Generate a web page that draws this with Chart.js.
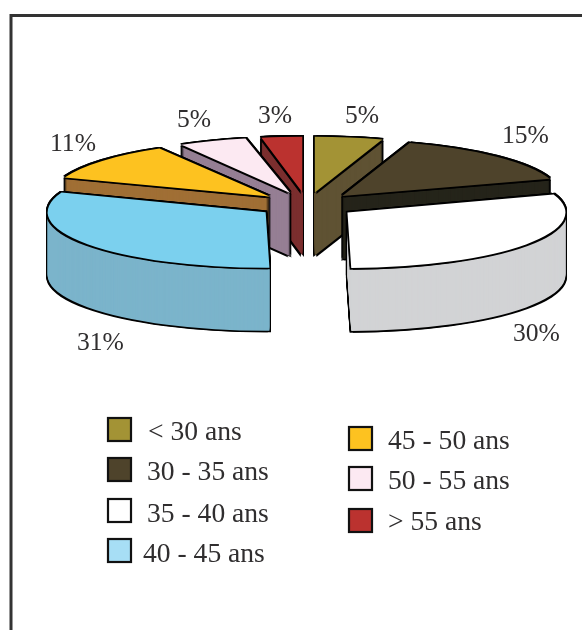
<!DOCTYPE html>
<html lang="fr">
<head>
<meta charset="utf-8">
<title>Répartition par âge</title>
<script src="https://cdn.jsdelivr.net/npm/chart.js@4/dist/chart.umd.min.js"></script>
<style>
    html, body { margin: 0; padding: 0; background: #fff; }
    canvas { display: block; }
</style>
</head>
<body>
<canvas id="ageChart" width="582" height="630"></canvas>
<script>
// age groups and their share in percent
const categories = ['< 30 ans', '30 - 35 ans', '35 - 40 ans', '40 - 45 ans', '45 - 50 ans', '50 - 55 ans', '> 55 ans'];
const shares = [5, 15, 30, 31, 11, 5, 3];

// colours of the top faces, the side walls and the legend boxes
const topColors = ['#a39335', '#4e432b', '#ffffff', '#7bd0ee', '#fdc220', '#fce9f2', '#bb322f'];
const wallColors = ['#5f5233', '#25241a', '#d2d3d5', '#7bb4cb', '#a06f35', '#967f94', '#7b2e2e'];
const legendColors = ['#a39335', '#4e432b', '#ffffff', '#a7def5', '#fdc220', '#fce9f2', '#bb322f'];

// pie look
const SQUASH = 0.255;
const DEPTH = 63;
const EXPLODE = 50;
const OUTLINE = 1.6;
const TEXT_COLOR = '#302e2f';

// small per slice turn in degrees, gives the wedges their slight perspective lean
const sliceLean = [0, 0, -1, -1, -1.5, -1, 0];

// text and legend layout, same order as categories
const pctSpots = [[345, 123], [502, 143], [513, 341], [77, 350], [50, 151], [177, 127], [258, 123]];
const legendBoxes = [[108, 418], [108, 458], [108, 499], [108, 539], [349, 427], [349, 467], [349, 509]];
const legendText = [[148, 440], [147, 480], [147, 522], [143, 562], [388, 449], [388, 489], [388, 530]];

const flatOptions = color => ({
    backgroundColor: color, borderColor: color, borderWidth: 0, borderAlign: 'center',
    borderRadius: 0, offset: 0, spacing: 0, circular: true
});

// fill one arc, pushed down by depth and shifted by (dx, dy) in screen pixels
function paintArc(ctx, arc, lean, color, depth, dx, dy) {
    const mid = (arc.startAngle + arc.endAngle) / 2;
    const saved = arc.options;
    arc.options = flatOptions(color);
    ctx.save();
    ctx.translate(arc.x + dx, arc.y + depth + dy);
    ctx.scale(1, SQUASH);
    ctx.translate(Math.cos(mid) * EXPLODE, Math.sin(mid) * EXPLODE);
    ctx.rotate(lean * Math.PI / 180);
    ctx.translate(-arc.x, -arc.y);
    arc.draw(ctx);
    ctx.restore();
    arc.options = saved;
}

// black copies on the four diagonals leave a square cornered outline
function paintOutline(ctx, arc, lean, depth) {
    [[-1, -1], [1, -1], [-1, 1], [1, 1]].forEach(([sx, sy]) => {
        paintArc(ctx, arc, lean, '#000', depth, sx * OUTLINE, sy * OUTLINE);
    });
}

// draws the slices as thick wedges, back ones first
const thickPie = {
    id: 'thickPie',
    beforeDatasetsDraw(chart) {
        const ctx = chart.ctx;
        const arcs = chart.getDatasetMeta(0).data.map((arc, index) => ({ arc, index }));
        arcs.sort((a, b) =>
            Math.sin((a.arc.startAngle + a.arc.endAngle) / 2) - Math.sin((b.arc.startAngle + b.arc.endAngle) / 2));

        arcs.forEach(({ arc, index }) => {
            const lean = sliceLean[index];
            for (let d = DEPTH; d >= 0; d--) paintOutline(ctx, arc, lean, d);
            for (let d = DEPTH; d >= 1; d--) paintArc(ctx, arc, lean, wallColors[index], d, 0, 0);
            paintOutline(ctx, arc, lean, 0);
            paintArc(ctx, arc, lean, topColors[index], 0, 0, 0);
        });
        return false;
    }
};

// frame, percent labels and the two column legend
const decorations = {
    id: 'decorations',
    afterDraw(chart) {
        const ctx = chart.ctx;
        ctx.save();
        ctx.strokeStyle = '#333';
        ctx.lineWidth = 3;
        ctx.beginPath();
        ctx.moveTo(11, 630);
        ctx.lineTo(11, 15.5);
        ctx.lineTo(582, 15.5);
        ctx.stroke();

        ctx.fillStyle = TEXT_COLOR;
        ctx.textBaseline = 'alphabetic';
        ctx.font = '25.6px "Liberation Serif"';
        shares.forEach((value, i) => ctx.fillText(value + '%', pctSpots[i][0], pctSpots[i][1]));

        ctx.font = '27.6px "Liberation Serif"';
        categories.forEach((name, i) => {
            const [bx, by] = legendBoxes[i];
            ctx.fillStyle = legendColors[i];
            ctx.fillRect(bx, by, 23, 23);
            ctx.strokeStyle = '#111';
            ctx.lineWidth = 2.2;
            ctx.strokeRect(bx, by, 23, 23);
            ctx.fillStyle = TEXT_COLOR;
            ctx.fillText(name, legendText[i][0], legendText[i][1]);
        });
        ctx.restore();
    }
};

new Chart(document.getElementById('ageChart'), {
    type: 'pie',
    data: {
        labels: categories,
        datasets: [{ data: shares, backgroundColor: topColors }]
    },
    options: {
        responsive: false,
        animation: false,
        radius: 218,
        layout: { padding: { left: 32, bottom: 220 } },
        plugins: {
            legend: { display: false },
            tooltip: { enabled: false }
        }
    },
    plugins: [thickPie, decorations]
});
</script>
</body>
</html>
